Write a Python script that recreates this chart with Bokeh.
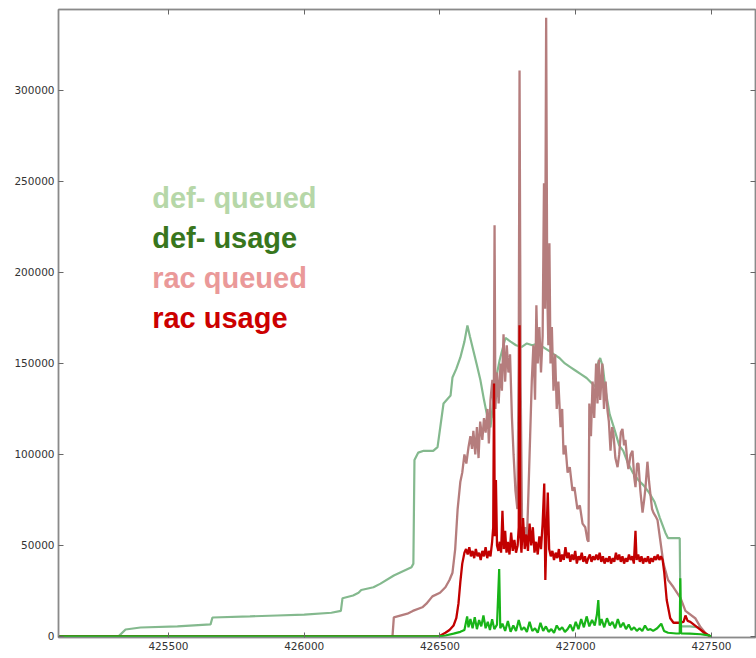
from bokeh.plotting import figure
from bokeh.models import LinearAxis, Range1d, Label, FixedTicker, NumeralTickFormatter, CustomJSTickFormatter
from bokeh.embed import file_html
from bokeh.resources import INLINE

# ---------------- data ----------------
def_queued_t = [425095, 425316, 425342, 425397, 425533, 425655, 425662, 425800, 425900, 426000,
                426100, 426135, 426141, 426180, 426200, 426210, 426255, 426281, 426330, 426395,
                426402, 426406, 426420, 426440, 426475, 426491, 426513, 426539, 426546, 426560,
                426575, 426590, 426601, 426610, 426623, 426636, 426649, 426662, 426675, 426686,
                426695, 426704, 426720, 426741, 426760, 426780, 426800, 426820, 426840, 426860,
                426880, 426900, 426920, 426940, 426960, 426980, 427000, 427020, 427040, 427060,
                427075, 427082, 427090, 427100, 427110, 427125, 427140, 427160, 427175, 427190,
                427210, 427230, 427250, 427270, 427290, 427310, 427330, 427340, 427383, 427386,
                427420, 427455, 427470, 427496]
def_queued_v = [0, 0, 3800, 4900, 5500, 6600, 10400, 11000, 11500, 12000,
                13000, 14000, 21000, 22500, 24000, 25500, 27000, 29000, 33500, 38000,
                40000, 97000, 101000, 102000, 102000, 104000, 128000, 132400, 142300, 147000,
                153300, 162000, 170900, 165000, 157000, 149000, 140700, 130000, 120300, 114800,
                128000, 140000, 152000, 164000, 162000, 160000, 159000, 161000, 160000, 161000,
                159000, 157000, 155000, 153000, 150000, 148000, 146000, 144000, 142000, 139000,
                137000, 150000, 153000, 148000, 135000, 122000, 115000, 105000, 102000, 96000,
                90000, 86000, 83000, 79000, 74000, 65000, 57000, 54000, 54000, 5500,
                5500, 5000, 2000, 0]

def_usage_t = [425095, 426495, 426520, 426550, 426575, 426590, 426600, 426605, 426612, 426620,
               426628, 426636, 426644, 426652, 426660, 426668, 426676, 426684, 426692, 426700,
               426710, 426718, 426722, 426730, 426740, 426750, 426760, 426770, 426780, 426790,
               426800, 426810, 426820, 426830, 426840, 426850, 426860, 426870, 426880, 426890,
               426900, 426910, 426920, 426930, 426940, 426950, 426960, 426970, 426980, 426990,
               427000, 427010, 427020, 427030, 427040, 427050, 427060, 427070, 427078, 427083,
               427088, 427095, 427105, 427115, 427125, 427135, 427145, 427155, 427165, 427175,
               427185, 427195, 427205, 427215, 427225, 427235, 427245, 427255, 427265, 427275,
               427285, 427300, 427315, 427325, 427340, 427370, 427383, 427385, 427388, 427420,
               427460, 427490, 427500]
def_usage_v = [0, 0, 500, 1500, 2500, 3500, 11000, 5000, 9500, 4500,
               10500, 4000, 9000, 5500, 11500, 4500, 8000, 3500, 9500, 4000,
               6500, 37000, 4500, 7000, 3000, 8500, 2500, 6000, 3000, 9000,
               3500, 5000, 2500, 8000, 3000, 4500, 2000, 7500, 3000, 5500,
               2500, 4000, 2000, 6000, 3500, 5000, 2500, 4000, 6500, 3000,
               8000, 4000, 9500, 5000, 11000, 5500, 9000, 6000, 12000, 20000,
               6000, 9500, 5000, 10000, 6000, 8000, 4500, 9500, 5000, 7500,
               4000, 6500, 3500, 5000, 3000, 4500, 3000, 6000, 3500, 4000,
               3000, 4500, 7000, 3000, 2000, 1600, 1600, 32000, 1600, 1500,
               1200, 600, 0]

rac_queued_t = [425095, 426325, 426330, 426380, 426400, 426435, 426450, 426472, 426500, 426520,
                426535, 426546, 426556, 426565, 426575, 426582, 426590, 426597, 426605, 426612,
                426618, 426623, 426630, 426636, 426642, 426648, 426656, 426662, 426668, 426675,
                426680, 426686, 426693, 426698, 426701, 426704, 426710, 426716, 426723, 426728,
                426734, 426740, 426746, 426752, 426758, 426765, 426771, 426778, 426785, 426790,
                426793, 426797, 426802, 426808, 426814, 426820, 426826, 426832, 426838, 426844,
                426850, 426855, 426860, 426866, 426872, 426878, 426883, 426887, 426891, 426895,
                426899, 426903, 426907, 426912, 426918, 426924, 426930, 426936, 426944, 426950,
                426955, 426962, 426970, 426978, 426988, 426995, 427006, 427015, 427025, 427035,
                427043, 427047, 427050, 427056, 427062, 427068, 427075, 427080, 427085, 427090,
                427098, 427104, 427110, 427117, 427122, 427128, 427134, 427139, 427146, 427154,
                427160, 427166, 427172, 427178, 427183, 427190, 427194, 427202, 427209, 427215,
                427220, 427226, 427231, 427238, 427246, 427252, 427257, 427264, 427270, 427275,
                427281, 427286, 427294, 427301, 427312, 427323, 427340, 427360, 427386, 427404,
                427440, 427460, 427480, 427496]
rac_queued_v = [0, 0, 10500, 12500, 14000, 16000, 18000, 22000, 24000, 27000,
                31000, 35000, 48000, 70000, 85000, 90000, 100000, 95000, 104000, 110000,
                103000, 113000, 100000, 115000, 98000, 118000, 108000, 120000, 112000, 125000,
                106000, 130000, 141000, 120000, 226000, 125000, 145000, 128000, 150000, 135000,
                166000, 140000, 160000, 145000, 155000, 120000, 100000, 80000, 70000, 150000,
                311000, 140000, 65000, 55000, 60000, 52000, 80000, 110000, 140000, 160000,
                130000, 182000, 150000, 170000, 145000, 165000, 249000, 180000, 340000, 190000,
                160000, 216000, 150000, 170000, 135000, 155000, 125000, 140000, 115000, 125000,
                100000, 105000, 90000, 93000, 80000, 82000, 70000, 72000, 62000, 60000,
                53000, 52000, 128000, 110000, 140000, 120000, 150000, 128000, 152000, 130000,
                150000, 125000, 140000, 124000, 118000, 102000, 115000, 111000, 98000, 93000,
                100000, 112000, 114000, 105000, 108000, 96000, 92000, 100000, 102000, 88000,
                82000, 95000, 95000, 80000, 68000, 75000, 82000, 96000, 85000, 78000,
                70000, 68000, 66000, 64000, 52000, 40000, 31000, 27000, 21000, 14000,
                10000, 5000, 1500, 0]

rac_usage_t = [425095, 426495, 426505, 426520, 426535, 426550, 426560, 426568, 426575, 426582,
               426590, 426596, 426602, 426608, 426614, 426620, 426626, 426632, 426638, 426644,
               426650, 426656, 426662, 426668, 426674, 426680, 426686, 426692, 426696, 426699,
               426702, 426706, 426710, 426715, 426720, 426725, 426730, 426735, 426740, 426745,
               426750, 426756, 426762, 426768, 426774, 426780, 426786, 426790, 426793, 426796,
               426800, 426806, 426812, 426818, 426824, 426830, 426836, 426842, 426848, 426854,
               426860, 426866, 426872, 426878, 426884, 426888, 426892, 426897, 426902, 426908,
               426914, 426920, 426926, 426932, 426938, 426944, 426950, 426956, 426962, 426968,
               426974, 426980, 426986, 426992, 426998, 427004, 427010, 427016, 427022, 427028,
               427034, 427040, 427046, 427052, 427058, 427064, 427070, 427076, 427082, 427088,
               427094, 427100, 427106, 427112, 427118, 427124, 427130, 427136, 427142, 427148,
               427154, 427160, 427166, 427172, 427178, 427184, 427190, 427196, 427202, 427208,
               427214, 427220, 427224, 427230, 427236, 427242, 427248, 427254, 427260, 427266,
               427272, 427278, 427284, 427290, 427296, 427302, 427308, 427314, 427320, 427326,
               427335, 427348, 427360, 427380, 427397, 427404, 427412, 427422, 427448, 427474,
               427496]
rac_usage_v = [0, 0, 800, 2000, 3500, 6000, 10000, 18000, 30000, 40000,
               46000, 48000, 45000, 49000, 44000, 47000, 43000, 48000, 44000, 46000,
               42000, 47000, 44000, 49000, 43000, 47000, 44000, 52000, 60000, 139000,
               55000, 86000, 50000, 47000, 52000, 46000, 69000, 48000, 58000, 46000,
               52000, 45000, 57000, 47000, 53000, 46000, 50000, 60000, 171000, 55000,
               46000, 65000, 48000, 56000, 47000, 62000, 50000, 60000, 46000, 52000,
               45000, 55000, 48000, 62000, 84000, 31000, 55000, 79000, 48000, 44000,
               47000, 42000, 46000, 43000, 48000, 41000, 45000, 42000, 49000, 43000,
               46000, 41000, 45000, 42000, 47000, 40000, 44000, 42000, 46000, 41000,
               44000, 40000, 43000, 45000, 41000, 44000, 42000, 45000, 42000, 46000,
               41000, 44000, 40000, 43000, 41000, 44000, 40000, 43000, 41000, 46000,
               42000, 45000, 41000, 44000, 40000, 43000, 41000, 45000, 42000, 44000,
               40000, 58000, 42000, 45000, 41000, 44000, 40000, 43000, 41000, 44000,
               40000, 43000, 41000, 44000, 42000, 45000, 42000, 44000, 42000, 35000,
               20000, 10000, 7500, 7500, 8000, 11500, 8500, 8000, 5000, 2000,
               0]

x_ticks = [425500, 426000, 426500, 427000, 427500]
y_ticks = [0, 50000, 100000, 150000, 200000, 250000, 300000]

legend_labels = ["def- queued", "def- usage", "rac queued", "rac usage"]
legend_text_colors = ["#b6d7a8", "#38761d", "#ea9999", "#cc0000"]
legend_y = [241000, 219000, 197000, 175000]
legend_x = 425440

# ---------------- figure ----------------
p = figure(width=756, height=658, output_backend="svg", toolbar_location=None,
           x_range=Range1d(425095, 427662), y_range=Range1d(-600, 344500),
           x_axis_location=None, y_axis_location=None,
           min_border_left=58, min_border_right=1, min_border_top=9, min_border_bottom=21)
p.xgrid.visible = False
p.ygrid.visible = False
p.outline_line_color = "#9a9a9a"
p.outline_line_width = 1.5
p.background_fill_color = "white"
p.border_fill_color = "white"

def style_axis(ax, show_labels):
    ax.axis_line_color = "#8a8a8a"
    ax.axis_line_width = 1.5
    ax.major_tick_in = 5
    ax.major_tick_out = 0
    ax.minor_tick_in = 0
    ax.minor_tick_out = 0
    ax.major_tick_line_color = "#666666"
    ax.major_label_text_font = "DejaVu Sans"
    ax.major_label_text_font_size = "10.5px"
    ax.major_label_text_color = "#333333"
    ax.major_label_standoff = 4 if show_labels else 0

yax = LinearAxis(ticker=FixedTicker(ticks=y_ticks), formatter=NumeralTickFormatter(format="0"))
style_axis(yax, True)
p.add_layout(yax, "left")
xax = LinearAxis(ticker=FixedTicker(ticks=x_ticks), formatter=NumeralTickFormatter(format="0"))
style_axis(xax, True)
p.add_layout(xax, "below")
blank = CustomJSTickFormatter(code="return '';")
rax = LinearAxis(ticker=FixedTicker(ticks=y_ticks), formatter=blank)
style_axis(rax, False)
p.add_layout(rax, "right")
tax = LinearAxis(ticker=FixedTicker(ticks=x_ticks), formatter=blank)
style_axis(tax, False)
p.add_layout(tax, "above")

p.line(def_queued_t, def_queued_v, line_color="#84b98e", line_width=2.2)
p.line(rac_queued_t, rac_queued_v, line_color="#b57d7d", line_width=2.3)
p.line(rac_usage_t, rac_usage_v, line_color="#c20000", line_width=2.3)
p.line(def_usage_t, def_usage_v, line_color="#18b418", line_width=2.2)

for lbl, col, yy in zip(legend_labels, legend_text_colors, legend_y):
    p.add_layout(Label(x=legend_x, y=yy, text=lbl, text_color=col,
                       text_font="Liberation Sans", text_font_style="bold",
                       text_font_size="29px", text_baseline="alphabetic"))

open("out.html", "w").write(file_html(p, INLINE))
